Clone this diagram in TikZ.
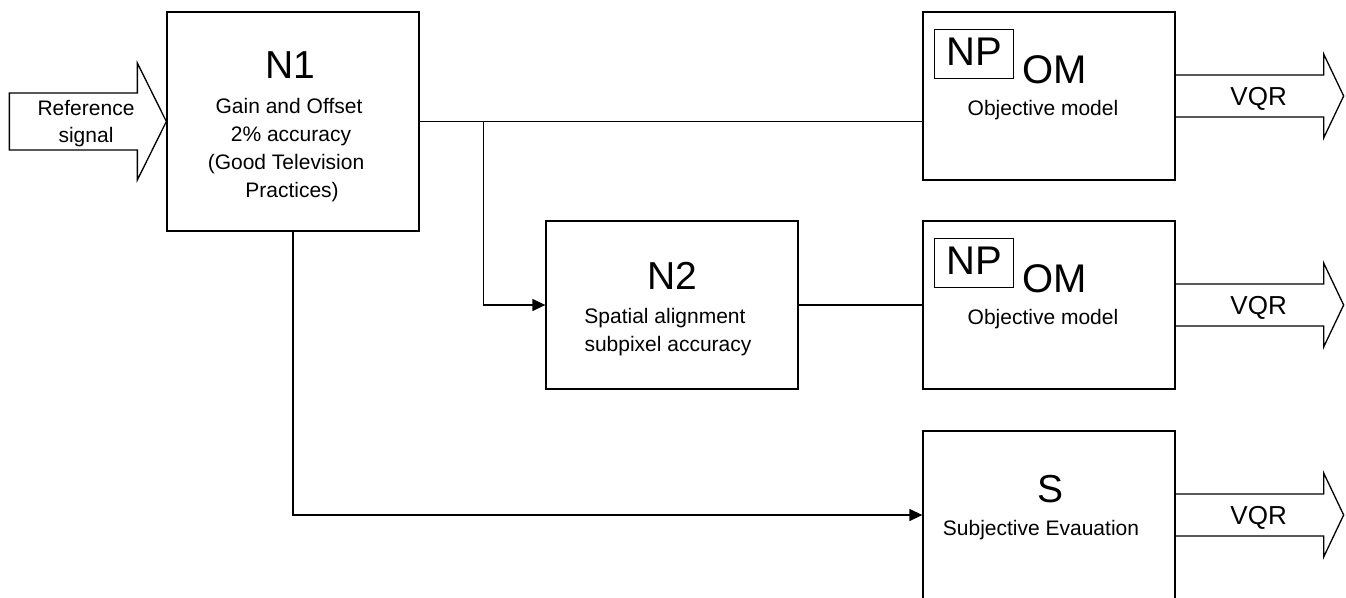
\documentclass[tikz,border=0pt]{standalone}
\usepackage{fontspec}
\setmainfont{Liberation Sans}
\usetikzlibrary{arrows.meta,calc}
\begin{document}
\begin{tikzpicture}[x=1pt,y=-1pt,line width=1.3pt,line join=miter,
  block/.style={draw,rectangle,minimum width=252pt,minimum height=168pt,inner sep=0pt},
  npbox/.style={draw,rectangle,minimum width=79pt,minimum height=49pt,inner sep=0pt,anchor=north west},
  bigtxt/.style={font=\fontsize{39}{39}\selectfont,anchor=base,inner sep=0pt},
  smalltxt/.style={font=\fontsize{21}{28}\selectfont,anchor=base,inner sep=0pt},
  vqrtxt/.style={font=\fontsize{26}{26}\selectfont,anchor=base,inner sep=0pt},
  flow/.style={-{Triangle[length=13pt,width=12pt]}},
  pics/outarrow/.style={code={
    \draw (0,-21) -- (148,-21) -- (148,-42) -- (168,0) -- (148,42) -- (148,21) -- (0,21);
    \node[vqrtxt] at (83,9) {VQR};}}]
\useasboundingbox (0,0) rectangle (1346,597);
\clip (0,0) rectangle (1346,597);

% processing blocks
\node[block,minimum height=219pt] (n1) at (293,121.5) {};
\node[block] (om1) at (1049,96) {};
\node[block] (n2) at (672,305) {};
\node[block] (om2) at (1049,305) {};
\node[block] (s) at (1049,515) {};

% N1 text
\node[bigtxt] (n1title) at (290,78) {N1};
\node[smalltxt] (n1a) at (289,113) {Gain and Offset};
\node[smalltxt] (n1b) at (291,141) {2\% accuracy};
\node[smalltxt] (n1c) at (286,169) {(Good Television};
\node[smalltxt] (n1d) at (292,197) {Practices)};

% objective model blocks
\foreach \b/\dy in {om1/0,om2/209}{
  \node[npbox] (np-\b) at (934,29+\dy) {};
  \node[font=\fontsize{40}{40}\selectfont,anchor=base,inner sep=0pt] (npt-\b) at (974,65+\dy) {NP};
  \node[font=\fontsize{40}{40}\selectfont,anchor=base,inner sep=0pt] (omt-\b) at (1055,83+\dy) {OM};
  \node[smalltxt] (omd-\b) at (1043,115+\dy) {Objective model};
}

% N2 text
\node[bigtxt] (n2title) at (672,289) {N2};
\node[smalltxt] (n2a) at (665,323) {Spatial alignment};
\node[smalltxt] (n2b) at (668,351) {subpixel accuracy};

% S text
\node[bigtxt] (stitle) at (1050,502) {S};
\node[smalltxt] (sa) at (1041,535) {Subjective Evauation};

% input arrow
\draw (n1.west) -- ++(-29,-58.5) -- ++(0,30) -- ++(-128,0) -- ++(0,57) -- ++(128,0) -- ++(0,30) -- cycle;
\node[smalltxt] (ref1) at (86,115) {Reference};
\node[smalltxt] (ref2) at (86,142) {signal};

% output arrows
\pic at (om1.east) {outarrow};
\pic at (om2.east) {outarrow};
\pic at (s.east) {outarrow};

% connectors
\coordinate (split) at ($(n1.east)+(64,0)$);
\draw (n1.east) -- (om1.west |- n1.east);
\draw[flow] (split) |- (n2.west);
\draw (n2.east) -- (om2.west);
\draw[flow] (n1.south) |- (s.west);
\end{tikzpicture}
\end{document}
